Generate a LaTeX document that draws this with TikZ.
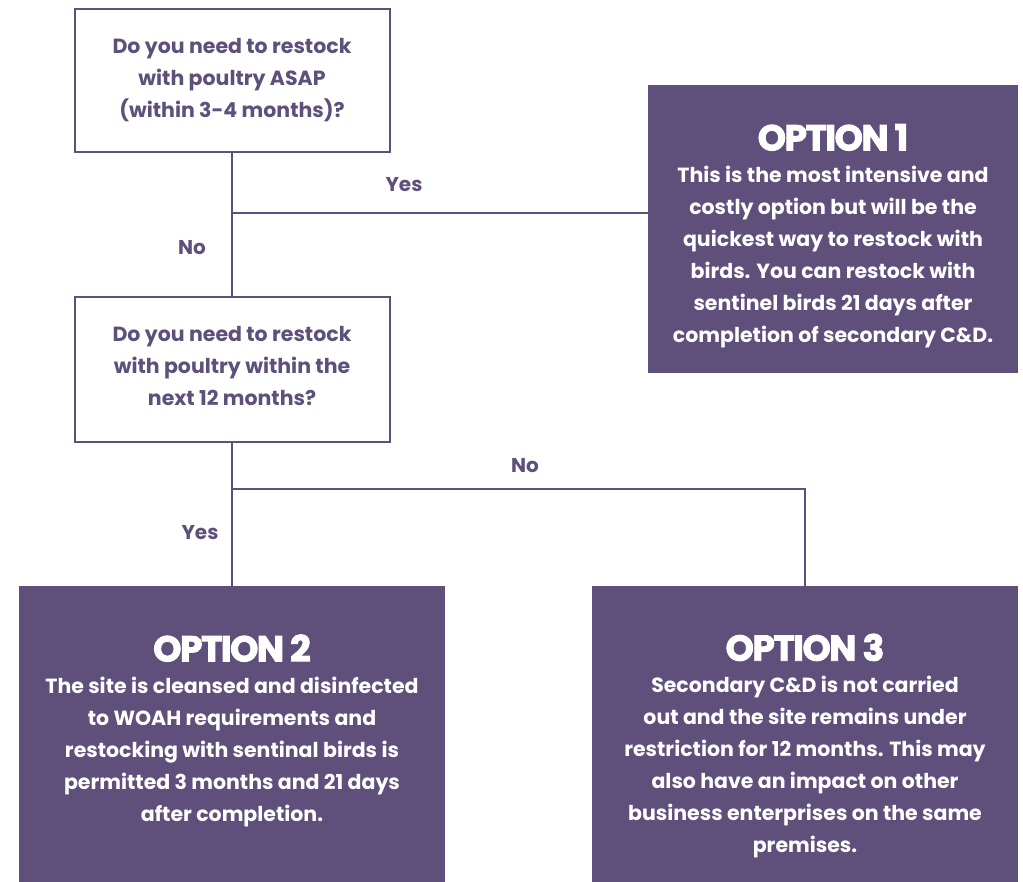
\documentclass[tikz,border=0pt]{standalone}
\usepackage{fontspec}
\setmainfont{Poppins}
\newfontfamily\headfont{Poppins}[LetterSpace=-4,FakeBold=2.5]
\definecolor{plum}{HTML}{5E4F7B}
\begin{document}
\begin{tikzpicture}[x=1pt,y=-1pt,
  bodyfont/.style={font=\bfseries\fontsize{20.5}{32}\selectfont},
  qbox/.style={draw=plum,line width=2pt,fill=white,text=plum,align=center,
    minimum width=315pt,inner sep=0pt,bodyfont},
  optbox/.style={fill=plum,inner sep=0pt},
  opttext/.style={text=white,align=center,inner sep=0pt,bodyfont},
  conn/.style={draw=plum,line width=2pt},
  lbl/.style={text=plum,font=\bfseries\fontsize{20}{22}\selectfont}]
\useasboundingbox (0,0) rectangle (1023,882);
\node[qbox,minimum height=143pt] (q1) at (232,80.5) {Do you need to restock\\with poultry ASAP\\(within 3-4 months)?};
\node[qbox,minimum height=145pt] (q2) at (232,369.5) {};
\node[text=plum,align=center,inner sep=0pt,bodyfont] (q2t) at (q2.center) [yshift=4pt] {Do you need to restock\\with poultry within the\\next 12 months?};
\node[optbox,minimum width=370pt,minimum height=288pt] (o1) at (833,229) {};
\node[opttext] (o1t) at (o1.center) [yshift=-7pt]
  {{\headfont\fontsize{36}{36}\selectfont OPTION 1}\\This is the most intensive and\\costly option but will be the\\quickest way to restock with\\birds. You can restock with\\sentinel birds 21 days after\\completion of secondary C\&D.};
\node[optbox,minimum width=426pt,minimum height=296pt] (o2) at (232,734) {};
\node[opttext] (o2t) at (o2.center) [yshift=-10pt]
  {{\headfont\fontsize{36}{36}\selectfont OPTION 2}\\The site is cleansed and disinfected\\to WOAH requirements and\\restocking with sentinal birds is\\permitted 3 months and 21 days\\after completion.\\\mbox{}};
\node[optbox,minimum width=426pt,minimum height=296pt] (o3) at (805,734) {};
\node[opttext] (o3t) at (o3.center) [yshift=-12pt]
  {{\headfont\fontsize{36}{36}\selectfont OPTION 3}\\Secondary C\&D is not carried\\out and the site remains under\\restriction for 12 months. This may\\also have an impact on other\\business enterprises on the same\\premises.};
\coordinate (j1) at (232,213);
\coordinate (j2) at (232,489);
\draw[conn] (q1.south) -- (q2.north);
\draw[conn] (j1) -- (j1 -| o1.west);
\draw[conn] (q2.south) -- (o2.north);
\draw[conn] (j2) -- (j2 -| o3.north) -- (o3.north);
\node[lbl] (l1) at (404,185) {Yes};
\node[lbl] (l2) at (192,248) {No};
\node[lbl] (l3) at (525,466) {No};
\node[lbl] (l4) at (200,533) {Yes};
\end{tikzpicture}
\end{document}
